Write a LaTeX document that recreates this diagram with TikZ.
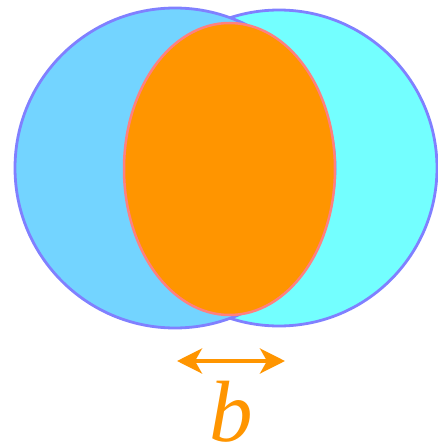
\documentclass[tikz,border=0pt]{standalone}
\usepackage{fontspec}
\setmainfont{Liberation Serif}
\usetikzlibrary{arrows.meta}
\definecolor{lblue}{HTML}{73D4FF}
\definecolor{lcyan}{HTML}{73FFFF}
\definecolor{rim}{HTML}{8080FF}
\definecolor{orng}{HTML}{FF9500}
\definecolor{orim}{HTML}{FF8080}
\begin{document}
\begin{tikzpicture}[x=1pt,y=-1pt,
  disc/.style={draw=rim,line width=2.8pt},
  core/.style={fill=orng,draw=orim,line width=2.5pt}]
\useasboundingbox (0,0) rectangle (438,447);
\draw[disc,fill=lcyan] (279,168) circle[radius=158];
\draw[disc,fill=lblue] (175,168) circle[radius=160];
\draw[core] (229.5,169) ellipse[x radius=105.5,y radius=146];
\coordinate (al) at (177,361);
\coordinate (ar) at (285,361);
\draw[orng,line width=4pt,{Stealth[length=25pt,width=25pt,inset=7pt]}-{Stealth[length=25pt,width=25pt,inset=7pt]}] (al) -- (ar);
\node[text=orng,font=\fontsize{87}{87}\selectfont\itshape,anchor=base,inner sep=0pt,text depth=0pt] (lb) at (231,441) {b};
\end{tikzpicture}
\end{document}
